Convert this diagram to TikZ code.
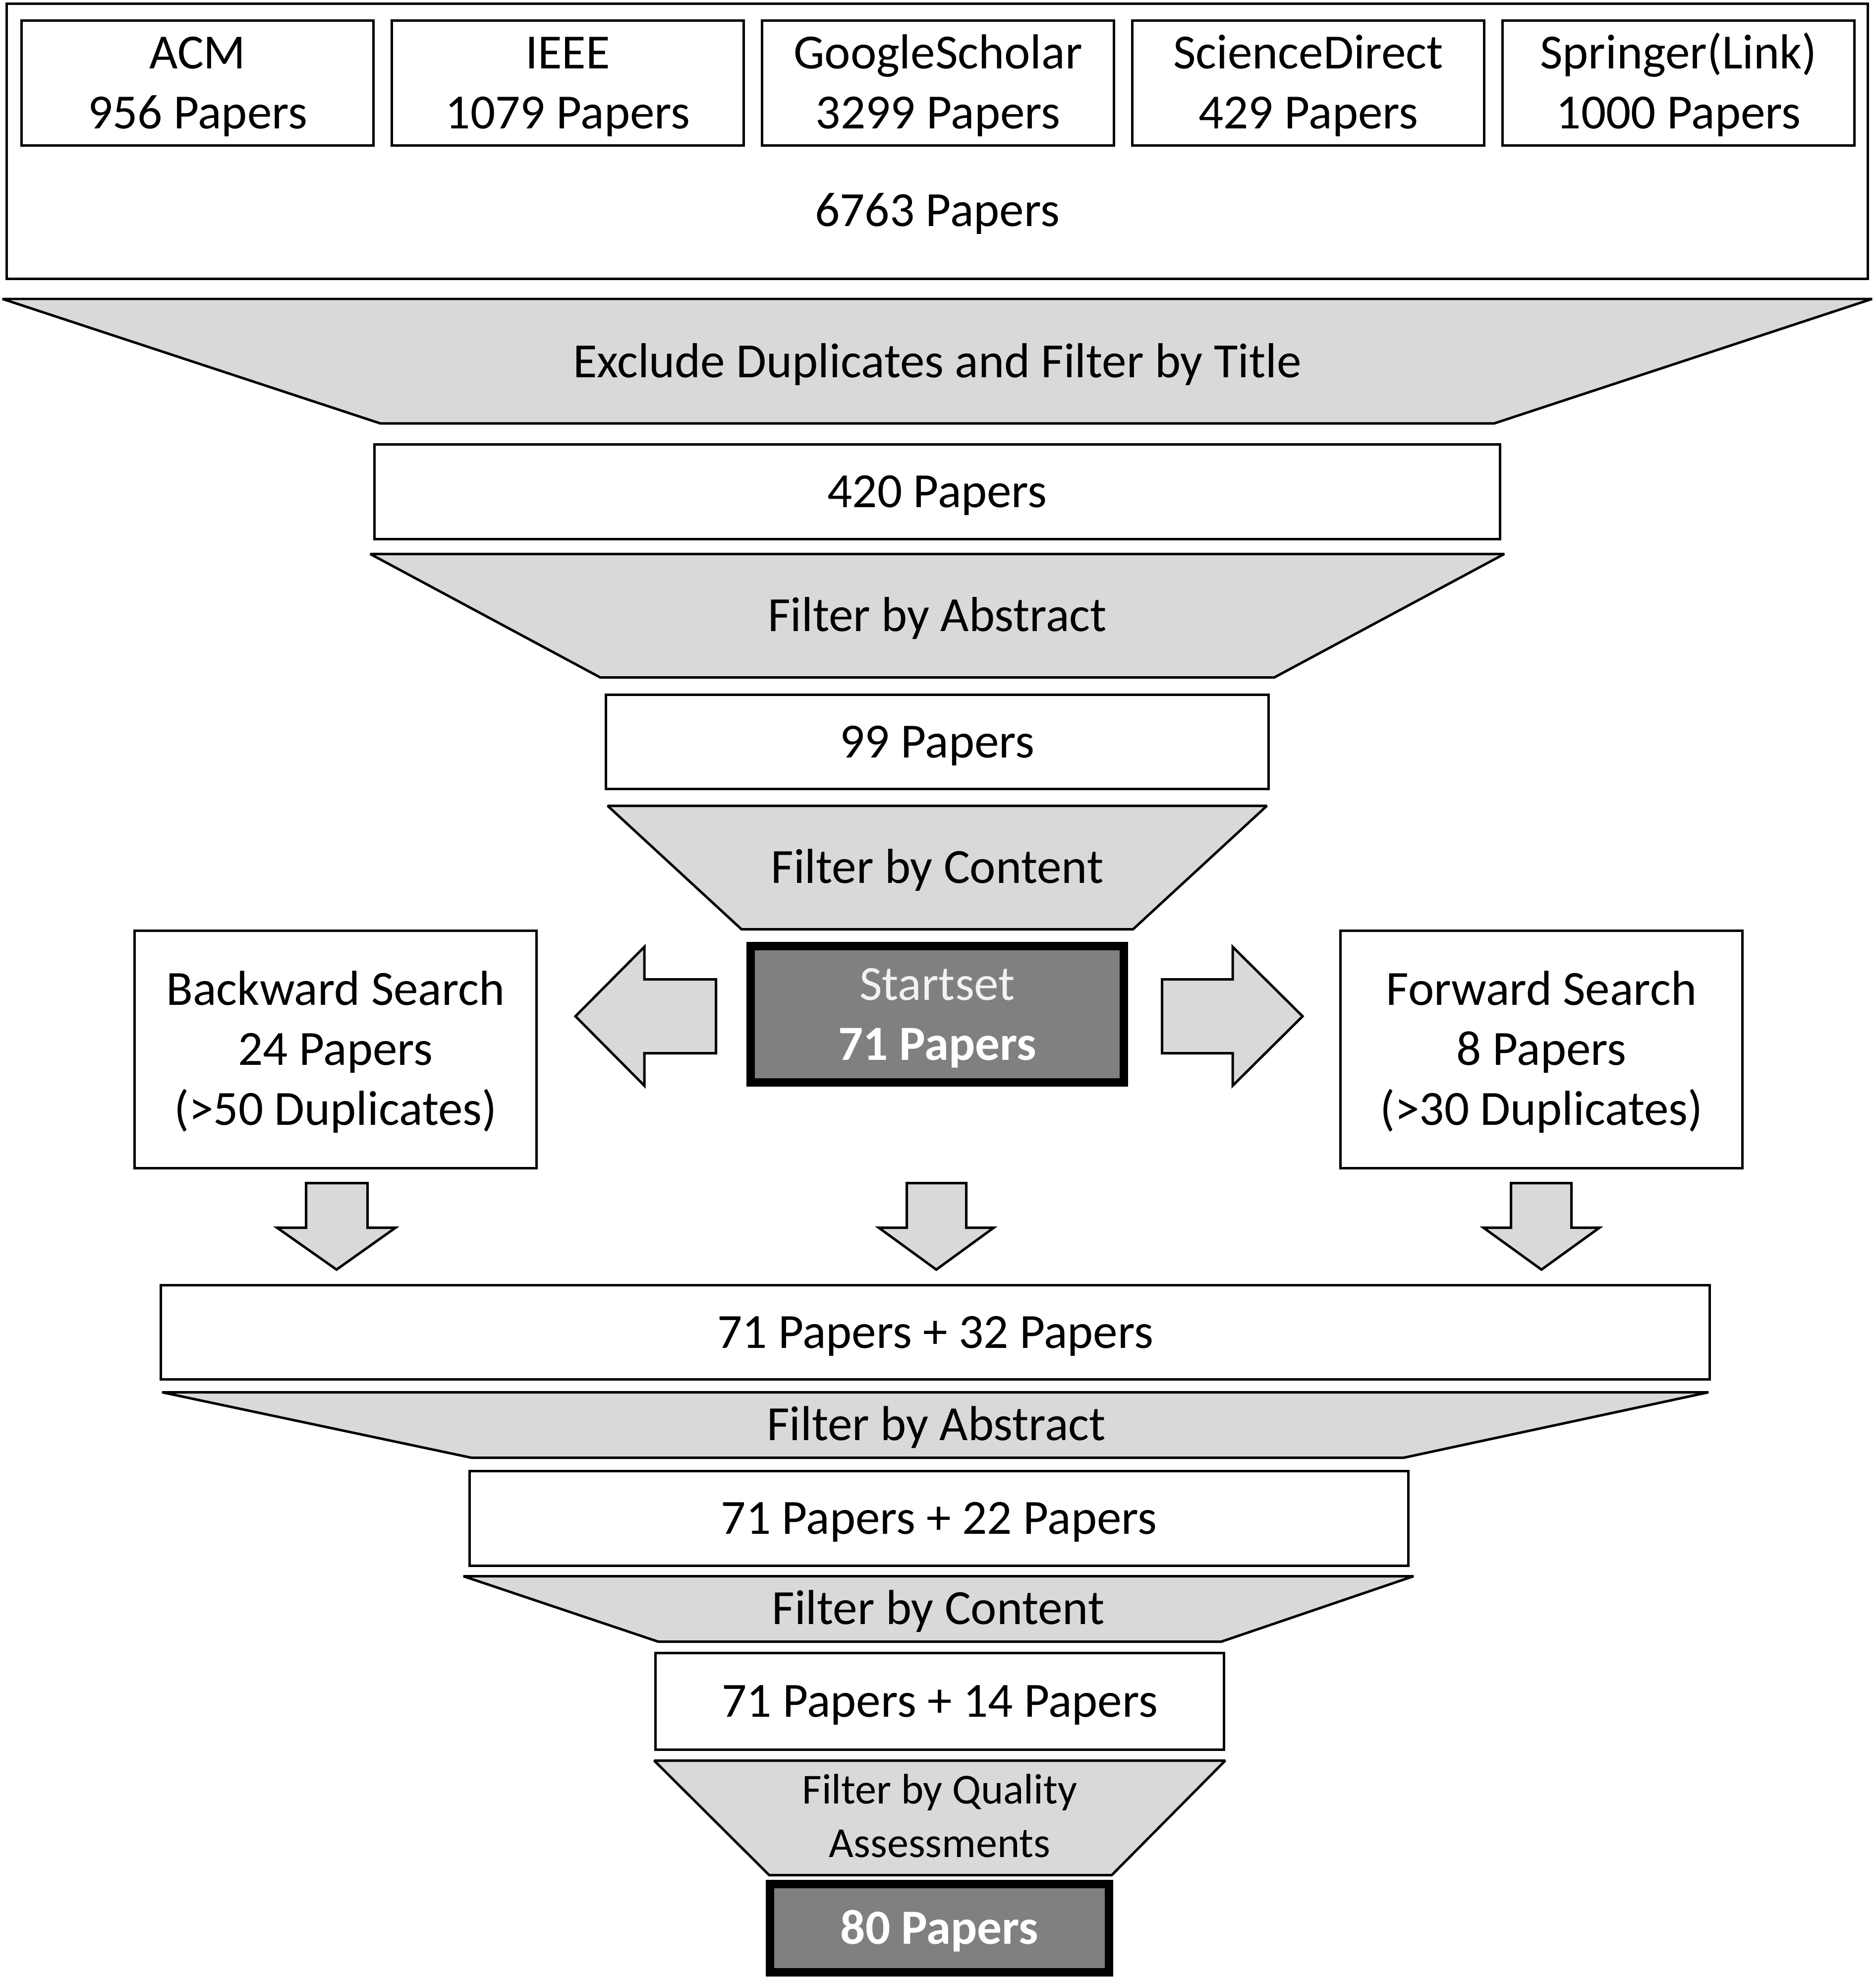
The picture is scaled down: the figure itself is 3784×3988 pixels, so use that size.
\documentclass[tikz,border=0pt]{standalone}
\usepackage{fontspec}
\setmainfont{Carlito}
\definecolor{fgray}{HTML}{D9D9D9}
\definecolor{dgray}{HTML}{808080}
\definecolor{lgray}{HTML}{F2F2F2}
\newcommand{\mainfs}{\fontsize{28.2pt}{34.4pt}\selectfont}
\newcommand{\smallfs}{\fontsize{24.5pt}{30.6pt}\selectfont}
\newlength{\capht}
\newlength{\capsm}
\newcommand{\firstln}[1]{\rule{0pt}{\capht}\smash{#1}}
\newcommand{\firstsm}[1]{\rule{0pt}{\capsm}\smash{#1}}
\begin{document}
\settoheight{\capht}{\mainfs H}%
\settoheight{\capsm}{\smallfs H}%
\begin{tikzpicture}[x=0.01cm,y=-0.01cm,
  pbox/.style={draw=black, line width=1.42pt, fill=white, inner sep=0pt, align=center, font=\mainfs},
  dbox/.style={draw=black, line width=4.84pt, fill=dgray, inner sep=0pt, align=center, text=white, font=\mainfs},
  one/.style={text height=\capht, text depth=0pt},
  funnel/.style={draw=black, line width=1.42pt, fill=fgray, line join=bevel},
  blockarrow/.style={draw=black, line width=1.42pt, fill=fgray, line join=miter},
  lbl/.style={inner sep=0pt, align=center, font=\mainfs}
]
\useasboundingbox (0,0) rectangle (3784,3988);

% top container
\node[pbox, minimum width=37.53cm, minimum height=5.55cm] (all) at (1891,285) {};
\node[pbox, minimum width=7.10cm, minimum height=2.52cm] (acm) at (398.5,167.5) {\firstln{ACM}\\\smash{956 Papers}};
\node[pbox, minimum width=7.10cm, minimum height=2.52cm] (ieee) at (1145.5,167.5) {\firstln{IEEE}\\\smash{1079 Papers}};
\node[pbox, minimum width=7.10cm, minimum height=2.52cm] (gs) at (1892.5,167.5) {\firstln{GoogleScholar}\\\smash{3299 Papers}};
\node[pbox, minimum width=7.10cm, minimum height=2.52cm] (sd) at (2639.5,167.5) {\firstln{ScienceDirect}\\\smash{429 Papers}};
\node[pbox, minimum width=7.10cm, minimum height=2.52cm] (spr) at (3386.5,167.5) {\firstln{Springer(Link)}\\\smash{1000 Papers}};
\node[lbl, one] (total) at (1891,425) {6763 Papers};

% funnel 1
\draw[funnel] (5,603) -- (3777,603) -- (3015,854) -- (767,854) -- cycle;
\node[lbl, one] (f1) at (1891,730) {Exclude Duplicates and Filter by Title};

\node[pbox, one, minimum width=22.69cm, minimum height=1.91cm] (p420) at (1891,992) {420 Papers};

% funnel 2
\draw[funnel] (747,1117.5) -- (3035,1117.5) -- (2571,1366.5) -- (1211,1366.5) -- cycle;
\node[lbl, one] (f2) at (1891,1242) {Filter by Abstract};

\node[pbox, one, minimum width=13.37cm, minimum height=1.90cm] (p99) at (1891,1496.5) {99 Papers};

% funnel 3
\draw[funnel] (1226,1625.5) -- (2556,1625.5) -- (2286,1874.5) -- (1496,1874.5) -- cycle;
\node[lbl, one] (f3) at (1891,1750) {Filter by Content};

% startset
\node[dbox, minimum width=7.53cm, minimum height=2.75cm] (start) at (1891,2046)
  {\firstln{\color{lgray}Startset}\\\smash{\bfseries 71 Papers}};

% side arrows
\draw[blockarrow] (1161,2050) -- (1300,1910) -- (1300,1975.5) -- (1444.5,1975.5) -- (1444.5,2124.5) -- (1300,2124.5) -- (1300,2190) -- cycle;
\draw[blockarrow] (2628,2050) -- (2487,1910) -- (2487,1975.5) -- (2344.5,1975.5) -- (2344.5,2124.5) -- (2487,2124.5) -- (2487,2190) -- cycle;

\node[pbox, minimum width=8.11cm, minimum height=4.79cm] (back) at (677,2117)
  {\firstln{Backward Search}\\24 Papers\\\smash{(>50 Duplicates)}};
\node[pbox, minimum width=8.11cm, minimum height=4.79cm] (fwd) at (3110,2117)
  {\firstln{Forward Search}\\8 Papers\\\smash{(>30 Duplicates)}};

% down arrows
\draw[blockarrow] (617.5,2386.5) -- (741.5,2386.5) -- (741.5,2476.5) -- (798,2476.5) -- (679,2561) -- (559,2476.5) -- (617.5,2476.5) -- cycle;
\draw[blockarrow] (1829.5,2386.5) -- (1949.5,2386.5) -- (1949.5,2476.5) -- (2005,2476.5) -- (1889,2561) -- (1773,2476.5) -- (1829.5,2476.5) -- cycle;
\draw[blockarrow] (3048.5,2386.5) -- (3170.5,2386.5) -- (3170.5,2476.5) -- (3227,2476.5) -- (3110,2561) -- (2993,2476.5) -- (3048.5,2476.5) -- cycle;

\node[pbox, one, minimum width=31.23cm, minimum height=1.90cm] (p32) at (1887,2687.5) {71 Papers + 32 Papers};

% funnel 4
\draw[funnel] (327,2808.5) -- (3447,2808.5) -- (2832,2940.5) -- (951,2940.5) -- cycle;
\node[lbl, one] (f4) at (1889,2874) {Filter by Abstract};

\node[pbox, one, minimum width=18.92cm, minimum height=1.91cm] (p22) at (1894.5,3063) {71 Papers + 22 Papers};

% funnel 5
\draw[funnel] (935,3179.5) -- (2852,3179.5) -- (2464,3311.5) -- (1328,3311.5) -- cycle;
\node[lbl, one] (f5) at (1893,3245) {Filter by Content};

\node[pbox, one, minimum width=11.47cm, minimum height=1.95cm] (p14) at (1896,3432) {71 Papers + 14 Papers};

% funnel 6
\draw[funnel] (1320,3551.5) -- (2472,3551.5) -- (2243,3782.5) -- (1552,3782.5) -- cycle;
\node[lbl, font=\smallfs] (f6) at (1896,3665) {\firstsm{Filter by Quality}\\\smash{Assessments}};

% final
\node[dbox, one, minimum width=6.84cm, minimum height=1.78cm] (final) at (1895.5,3889.5) {\bfseries 80 Papers};
\end{tikzpicture}
\end{document}
